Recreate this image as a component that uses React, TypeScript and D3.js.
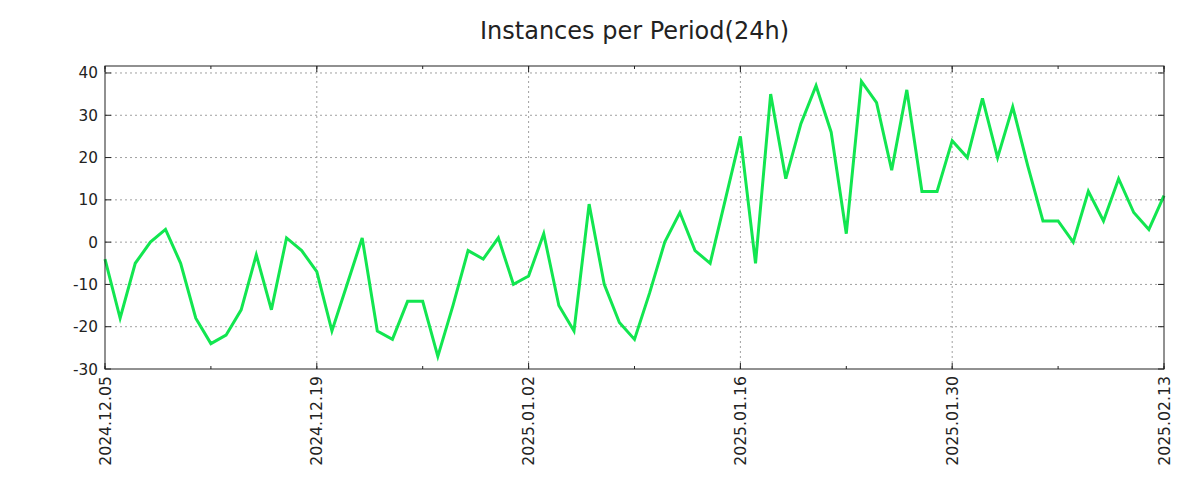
import React from "react";
import * as d3 from "d3";

const startDate = "2024-12-05";
const values: number[] = [
  -4, -18, -5, 0, 3, -5, -18, -24, -22, -16,
  -3, -16, 1, -2, -7, -21, -10, 1, -21, -23,
  -14, -14, -27, -15, -2, -4, 1, -10, -8, 2,
  -15, -21, 9, -10, -19, -23, -12, 0, 7, -2,
  -5, 10, 25, -5, 35, 15, 28, 37, 26, 2,
  38, 33, 17, 36, 12, 12, 24, 20, 34, 20,
  32, 18, 5, 5, 0, 12, 5, 15, 7, 3, 11,
];
const yTicks = [-30, -20, -10, 0, 10, 20, 30, 40];
const majorTickLabels = ["2024.12.05", "2024.12.19", "2025.01.02", "2025.01.16", "2025.01.30", "2025.02.13"];
const title = "Instances per Period(24h)";

const W = 1200, H = 500;
const left = 105, right = 1164, top = 66, bottom = 369;
const font = "DejaVu Sans, sans-serif";

export default function App() {
  const t0 = new Date(startDate + "T00:00:00");
  const dates = values.map((_, i) => d3.timeDay.offset(t0, i));
  const x = d3.scaleTime().domain([dates[0], dates[dates.length - 1]]).range([left, right]);
  const y = d3.scaleLinear().domain([-30, 41.65]).range([bottom, top]);
  const majors = majorTickLabels.map((s) => new Date(s.replace(/\./g, "-") + "T00:00:00"));
  const minors = d3.range(0, values.length, 7).map((i) => dates[i]);
  const line = d3.line<number>().x((_, i) => x(dates[i])).y((d) => y(d));
  const fmt = d3.timeFormat("%Y.%m.%d");

  return (
    <svg width={W} height={H} style={{ display: "block", margin: "-8px" }}>
      <rect width={W} height={H} fill="#fff" />
      <text x={(left + right) / 2} y={39} textAnchor="middle" fontFamily={font} fontSize={24} fill="#222">{title}</text>
      {yTicks.map((v) => (
        <g key={"y" + v}>
          {v > -30 && v < 41 && (
            <line x1={left} x2={right} y1={y(v)} y2={y(v)} stroke="#a0a0a0" strokeWidth={1} strokeDasharray="2,3" />
          )}
          <line x1={left} x2={left + 6} y1={y(v)} y2={y(v)} stroke="#222" />
          <line x1={right - 6} x2={right} y1={y(v)} y2={y(v)} stroke="#222" />
          <text x={98} y={y(v)} dy="0.36em" textAnchor="end" fontFamily={font} fontSize={15.3} fill="#222">{v}</text>
        </g>
      ))}
      {minors.map((d, i) => (
        <g key={"m" + i}>
          <line x1={x(d)} x2={x(d)} y1={bottom} y2={bottom - 3} stroke="#222" />
          <line x1={x(d)} x2={x(d)} y1={top} y2={top + 3} stroke="#222" />
        </g>
      ))}
      {majors.map((d, i) => (
        <g key={"M" + i}>
          {x(d) > left + 1 && x(d) < right - 1 && (
            <line x1={x(d)} x2={x(d)} y1={top} y2={bottom} stroke="#a0a0a0" strokeWidth={1} strokeDasharray="2,3" />
          )}
          <line x1={x(d)} x2={x(d)} y1={bottom} y2={bottom - 6} stroke="#222" />
          <line x1={x(d)} x2={x(d)} y1={top} y2={top + 6} stroke="#222" />
          <text
            transform={`translate(${x(d)},${bottom + 7}) rotate(-90)`}
            textAnchor="end"
            dy="0.36em"
            fontFamily={font}
            fontSize={15.7}
            fill="#222"
          >
            {fmt(d)}
          </text>
        </g>
      ))}
      <path d={line(values) || ""} fill="none" stroke="#12e650" strokeWidth={3} strokeLinejoin="miter" />
      <rect x={left} y={top} width={right - left} height={bottom - top} fill="none" stroke="#222" strokeWidth={1} />
    </svg>
  );
}
